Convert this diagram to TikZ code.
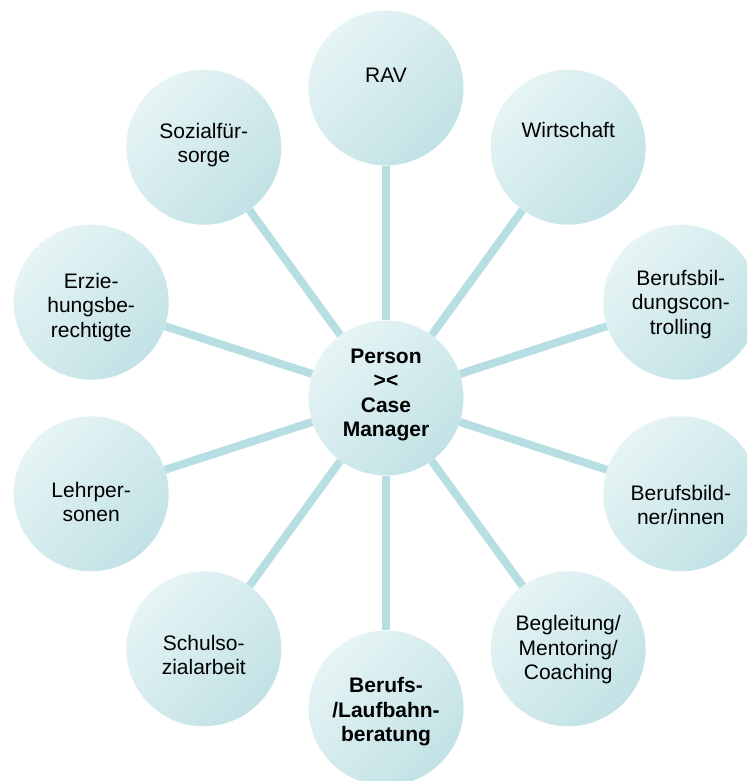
\documentclass[tikz,border=0pt]{standalone}
\usepackage{fontspec}
\setmainfont{Liberation Sans}

\definecolor{ringlight}{HTML}{E6F4F5}
\definecolor{ringmid}{HTML}{DFF1F2}
\definecolor{ringdark}{HTML}{C2E2E5}
\definecolor{linkcolor}{HTML}{B7DFE3}

\tikzstyle{partner}=[circle,minimum size=155pt,inner sep=0pt,top color=ringlight,middle color=ringmid,bottom color=ringdark,shading angle=45]
\tikzstyle{link} = [draw,linkcolor,line width=8pt]
\tikzstyle{caption} = [font=\fontsize{21}{24.5}\selectfont,align=center,inner sep=0pt]
\tikzstyle{capbold} = [caption,font=\fontsize{21}{24.5}\selectfont\bfseries]
\newcommand{\ringradius}{310}

\begin{document}
\begin{tikzpicture}[x=1pt,y=1pt]
    \useasboundingbox (0,0) rectangle (747,781);
    \clip (0,0) rectangle (747,781);
    % First the middle circle
    \node[partner] (hub) at (386,383) {};
    \node[capbold] (hub-t) at ([yshift=3]hub) {Person\\\textgreater\textless\\Case\\Manager};
    % Partners round the ring, with a spoke to the middle
    \foreach \name/\ang/\dy/\sty/\txt in {rav/90/13/caption/{RAV},
            wirt/54/17/caption/{Wirtschaft},
            bbc/18/-2/caption/{Berufsbil-\\dungscon-\\trolling},
            bbn/-18/-11/caption/{Berufsbild-\\ner/innen},
            begl/-54/-1/caption/{Begleitung/\\Mentoring/\\Coaching},
            lauf/-90/-4/capbold/{Berufs-\\/Laufbahn-\\beratung},
            schul/-126/-6/caption/{Schulso-\\zialarbeit},
            lehr/-162/-8/caption/{Lehrper-\\sonen},
            erz/162/-5/caption/{Erzie-\\hungsbe-\\rechtigte},
            sozi/126/2/caption/{Sozialfür-\\sorge}}
    {
        \node[partner] (\name) at ([shift={(\ang:\ringradius)}]hub) {};
        \node[\sty] (\name-t) at ([yshift=\dy]\name) {\txt};
        \path[link] (hub) -- (\name);
    }
\end{tikzpicture}
\end{document}
